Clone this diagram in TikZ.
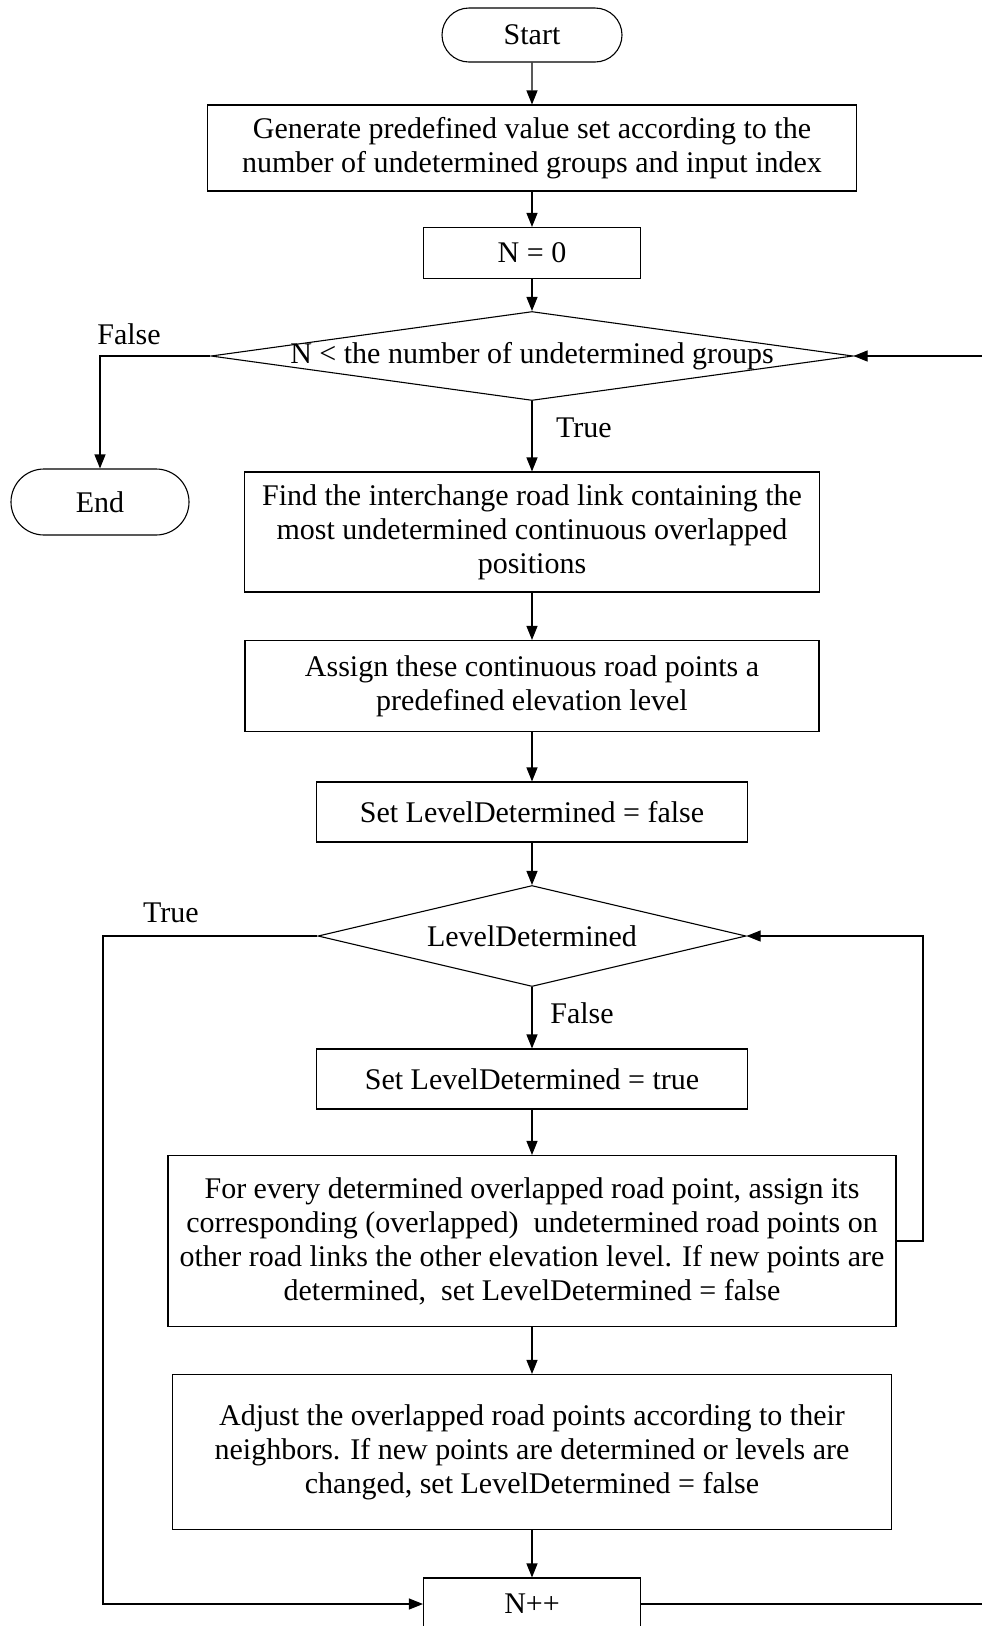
\documentclass[tikz,border=0pt]{standalone}
\usepackage{fontspec}
\setmainfont{Liberation Serif}
\usetikzlibrary{shapes.misc,shapes.geometric,arrows.meta}
\begin{document}
\begin{tikzpicture}[x=1pt,y=-1pt,
  txt/.style={font=\fontsize{30}{34}\selectfont},
  proc/.style={txt, draw, line width=1.1pt, align=center, inner sep=0pt},
  term/.style={txt, draw, line width=1.1pt, rounded rectangle, inner sep=0pt},
  dec/.style={draw, line width=1.1pt, diamond, inner sep=0pt},
  link/.style={line width=1.1pt, -{Triangle[length=14pt,width=11pt]}}
]
\useasboundingbox (0,0) rectangle (982,1626);
\clip (0,0) rectangle (982,1626);

% main column
\node[term, minimum width=180, minimum height=54] (start) at (532,35) {Start};
\node[proc, minimum width=649, minimum height=86] (gen) at (532,148)
  {Generate predefined value set according to the\\number of undetermined groups and input index};
\node[proc, minimum width=217, minimum height=51] (n0) at (532,253) {N = 0};
\node[dec, minimum width=642, minimum height=89] (d1) at (532,356) {};
\node[txt] at (d1) {N < the number of undetermined groups};
\node[term, minimum width=178, minimum height=66] (end) at (100,502) {End};
\node[proc, minimum width=575, minimum height=120] (find) at (532,532)
  {Find the interchange road link containing the\\most undetermined continuous overlapped\\positions};
\node[proc, minimum width=574, minimum height=91] (assign) at (532,686)
  {Assign these continuous road points a\\predefined elevation level};
\node[proc, minimum width=431, minimum height=60] (setf) at (532,812) {Set LevelDetermined = false};
\node[dec, minimum width=428, minimum height=101] (d2) at (532,936) {};
\node[txt] at (d2) {LevelDetermined};
\node[proc, minimum width=431, minimum height=60] (sett) at (532,1079) {Set LevelDetermined = true};
\node[proc, minimum width=728, minimum height=171] (every) at (532,1241)
  {For every determined overlapped road point, assign its\\corresponding (overlapped)~ undetermined road points on\\other road links the other elevation level. If new points are\\determined,~ set LevelDetermined = false};
\node[proc, minimum width=719, minimum height=155] (adjust) at (532,1452)
  {Adjust the overlapped road points according to their\\neighbors. If new points are determined or levels are\\changed, set LevelDetermined = false};
\node[proc, minimum width=217, minimum height=52] (npp) at (532,1604) {N++};

% branch labels
\node[txt] (lf1) at (129,334) {False};
\node[txt] (lt1) at (584,428) {True};
\node[txt] (lt2) at (171,913) {True};
\node[txt] (lf2) at (582,1013) {False};

% loop corners
\coordinate (c1) at (100,356);
\coordinate (c2) at (1000,1604);
\coordinate (c3) at (1000,356);
\coordinate (c4) at (103,936);
\coordinate (c5) at (103,1604);
\coordinate (c6) at (923,1241);
\coordinate (c7) at (923,936);

% straight flow
\draw[link] (start) -- (gen);
\draw[link] (gen) -- (n0);
\draw[link] (n0) -- (d1.north);
\draw[link] (d1.south) -- (find);
\draw[link] (find) -- (assign);
\draw[link] (assign) -- (setf);
\draw[link] (setf) -- (d2.north);
\draw[link] (d2.south) -- (sett);
\draw[link] (sett) -- (every);
\draw[link] (every) -- (adjust);
\draw[link] (adjust) -- (npp);

% loops and exits
\draw[link] (d1.west) -- (c1) -- (end.north);
\draw[link] (npp.east) -- (c2) -- (c3) -- (d1.east);
\draw[link] (d2.west) -- (c4) -- (c5) -- (npp.west);
\draw[link] (every.east) -- (c6) -- (c7) -- (d2.east);
\end{tikzpicture}
\end{document}
